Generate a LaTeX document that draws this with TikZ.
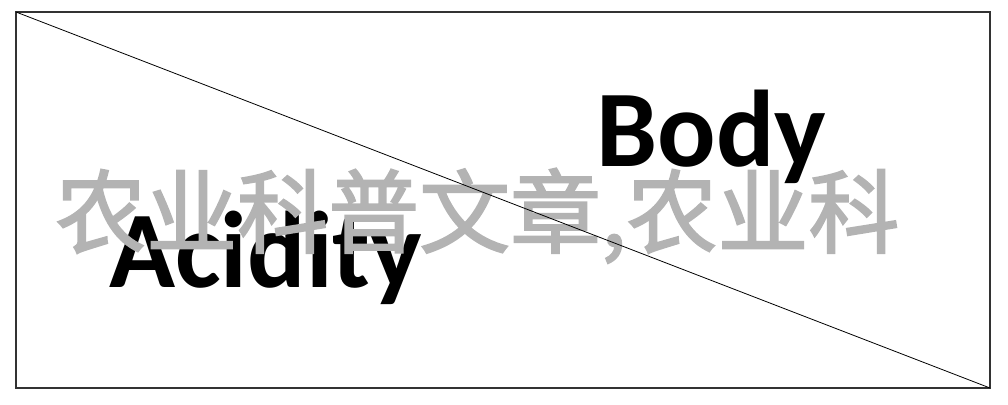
\documentclass[tikz,border=0pt]{standalone}
\usepackage{fontspec}
\setmainfont{Carlito}
\newfontfamily\cjk[FakeBold=2]{Noto Sans CJK SC}
\definecolor{mark}{RGB}{179, 179, 179}
\definecolor{frameline}{RGB}{50, 50, 50}

\begin{document}
\begin{tikzpicture}[x=1pt, y=-1pt,
      frame/.style={draw=frameline, line width=1.3pt, minimum width=974pt, minimum height=376pt, inner sep=0pt, outer sep=0pt},
      word/.style={anchor=base west, inner sep=0pt, font=\fontsize{109}{109}\selectfont\bfseries},
      stamp/.style={anchor=base west, inner sep=0pt, text=mark, font=\fontsize{91}{91}\selectfont\cjk}
    ]
      \useasboundingbox (0,0) rectangle (1008,404);

      % Frame
      \node[frame] (box) at (503,200) {};

      % Labels
      \node[word] (acidity) at (109,287) {Acidity};
      \node[stamp] (watermark) at (55,246) {农业科普文章,农业科};
      \node[word] (body) at (596,166) {Body};

      % Diagonal
      \draw[line width=0.8pt] (box.north west) -- (box.south east);
    \end{tikzpicture}
\end{document}
